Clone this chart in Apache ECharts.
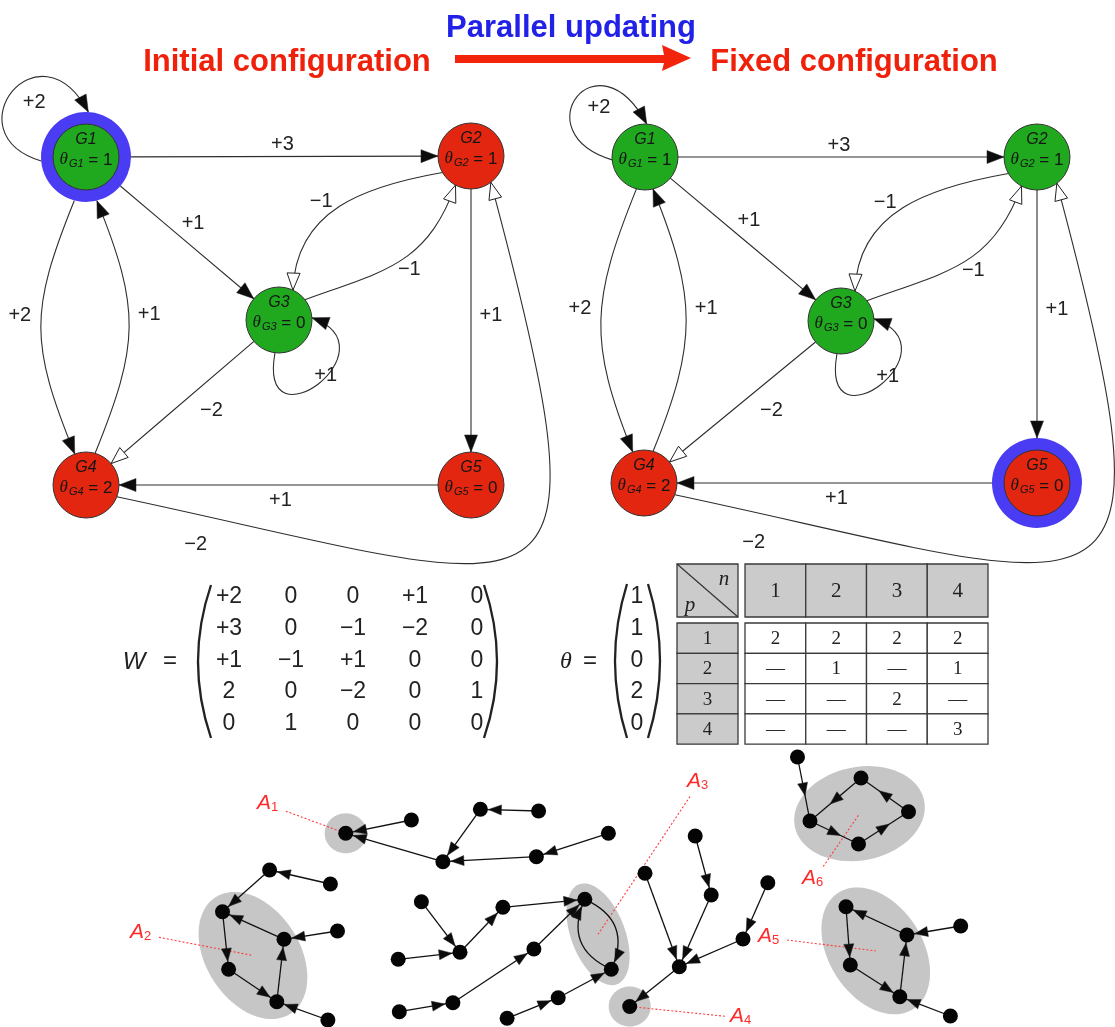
<!DOCTYPE html>
<html>
<head>
<meta charset="utf-8">
<title>Boolean network: parallel updating</title>
<script src="https://cdn.jsdelivr.net/npm/echarts@6/dist/echarts.min.js"></script>
<style>
  html, body { margin: 0; padding: 0; background: #fff; }
  #main { width: 1115px; height: 1027px; }
</style>
</head>
<body>
<div id="main"></div>
<script>
// ---------------- data ----------------
var geneNames = ['G1', 'G2', 'G3', 'G4', 'G5'];
var thetas = [1, 1, 0, 2, 0];
// W[i][j] = weight of edge Gj -> Gi (as printed)
var wText = [
  ['+2', '0', '0', '+1', '0'],
  ['+3', '0', '−1', '−2', '0'],
  ['+1', '−1', '+1', '0', '0'],
  ['2', '0', '−2', '0', '1'],
  ['0', '1', '0', '0', '0']
];
var W = wText.map(function (row) {
  return row.map(function (s) { return parseFloat(s.replace('−', '-')); });
});
var stateInitial = [1, 0, 1, 0, 0];   // 1 = active (green), 0 = inactive (red)
var stateFixed = [1, 1, 1, 0, 0];
var updatedInitial = 0;               // node with blue ring
var updatedFixed = 4;

// node positions of the two gene networks (initial / fixed)
var posInitial = [[86, 157], [471, 156], [279, 320], [86, 485], [471, 485]];
var posFixed = [[645, 157], [1037, 157], [841, 321], [644, 483], [1037, 483]];

// attractor table
var tableCols = ['1', '2', '3', '4'];   // n
var tableRows = ['1', '2', '3', '4'];   // p
var tableVals = [
  ['2', '2', '2', '2'],
  ['—', '1', '—', '1'],
  ['—', '—', '2', '—'],
  ['—', '—', '—', '3']
];

// state-space network (bottom)
var dotXY = [
  [345.7, 833.3], [411.4, 820], [480.4, 809.3], [538.6, 811], [442.9, 861.7],
  [536.4, 856.7], [608.4, 833.3], [269.6, 870], [330.4, 884], [222.5, 911.7],
  [284, 939.3], [337.5, 931], [228.6, 969.3], [276.8, 1001.7], [327.9, 1020],
  [421.4, 901.7], [502.9, 907.3], [460, 952.3], [398.2, 959.3], [584.8, 899.3],
  [611.3, 969.3], [533.9, 949], [452.9, 1002.7], [399.3, 1011.7], [558.2, 997.7],
  [507.1, 1018.3], [629.7, 1006.5], [645, 873.3], [695.2, 836], [711.2, 895],
  [767.8, 882.7], [743, 939], [679.3, 966.7], [797.5, 757], [861, 778],
  [908.5, 811.7], [858.5, 844], [810, 821], [846, 906.7], [906.9, 935],
  [960.7, 926], [850.3, 965], [899.8, 996.7], [950.4, 1016]
];
var dotEdges = [
  [1, 0], [4, 0], [2, 4], [3, 2], [5, 4], [6, 5],
  [8, 7], [7, 9], [10, 9], [9, 12], [12, 13], [13, 10], [11, 10], [14, 13],
  [15, 17], [18, 17], [17, 16], [16, 19],
  [23, 22], [22, 21], [21, 19],
  [25, 24], [24, 20],
  [19, 20], [20, 19],
  [27, 32], [28, 29], [29, 32], [30, 31], [31, 32], [32, 26],
  [33, 37], [34, 37], [37, 36], [36, 35], [35, 34],
  [39, 38], [38, 41], [41, 42], [42, 39], [40, 39], [43, 42]
];
var attractorNames = ['1', '2', '3', '4', '5', '6'];
var attractorMembers = [[0], [9, 10, 12, 13], [19, 20], [26], [38, 39, 41, 42], [34, 35, 36, 37]];

// ---------------- layout / style ----------------
var SANS = '"Liberation Sans", Arial, Helvetica, sans-serif';
var SERIF = '"Liberation Serif", "DejaVu Serif", serif';
var GREEN = '#20a81f', RED = '#e2260f', BLUE = '#4a3cf2';
var NODE_R = 33, RING_R = 45;

var panelPos = [posInitial, posFixed];
var panelState = [stateInitial, stateFixed];
var panelUpdated = [updatedInitial, updatedFixed];

// curve routing of gene edges: attach angles, control directions, tension, label offset
var edgeShape = {
  '0-0': { a0: 175, a1: 273, d0: 197, d1: 242, k0: 95, k1: 105, dx: 22, dy: 11 },
  '0-1': { dx: -2, dy: -12 },
  '0-2': { dx: 6, dy: -19 },
  '0-3': { a0: 105, a1: 250, d0: 112, d1: 248, k0: 120, k1: 120, dx: -21, dy: -12 },
  '3-0': { a0: 286, a1: 76, d0: 292, d1: 68, k0: 118, k1: 118, dx: 20, dy: -12 },
  '1-2': { a0: 150, a1: 295, d0: 170, d1: 272, k0: 80, k1: 80, dx: -18, dy: -5 },
  '2-1': { a0: 322, a1: 118, d0: 340, d1: 110, k0: 85, k1: 85, dx: 10, dy: 8 },
  '2-2': { a0: 97, a1: 356, d0: 100, d1: 20, k0: 100, k1: 90, dx: 7, dy: -8 },
  '2-3': { dx: 29, dy: 8 },
  '4-3': { dx: 2, dy: 15 },
  '1-4': { dx: 20, dy: -5 },
  '3-1': { a0: 21, a1: 53, d0: 12, d1: 75, k0: 455, k1: 490, t: 0.07, dx: -9, dy: 28 }
};
var dotBend = { '19-20': -0.5, '20-19': -0.5 };
var midArrowFrom = 33;   // edges inside the last attractor carry arrows mid-way
var attractorLabelXY = [[257, 803], [130, 932], [687, 781], [730, 1016], [758, 936], [802, 878]];

var MAT_X0 = 229, MAT_DX = 62, MAT_Y0 = 597, MAT_DY = 31.6;
var VEC_X = 637;
var TB_X0 = 677, TB_CORNER_W = 61, TB_COL_X0 = 745, TB_COL_W = 60.75;
var TB_Y0 = 564, TB_HEAD_H = 53, TB_ROW_Y0 = 623, TB_ROW_H = 30.3;

// ---------------- helpers ----------------
function dir(a) { var r = a * Math.PI / 180; return [Math.cos(r), Math.sin(r)]; }
function add(p, d, k) { return [p[0] + d[0] * k, p[1] + d[1] * k]; }
function mix(a, b, t) { return [a[0] + (b[0] - a[0]) * t, a[1] + (b[1] - a[1]) * t]; }
function bez(P, t) {
  var u = 1 - t, c0 = u * u * u, c1 = 3 * u * u * t, c2 = 3 * u * t * t, c3 = t * t * t;
  return [c0 * P[0][0] + c1 * P[1][0] + c2 * P[2][0] + c3 * P[3][0],
          c0 * P[0][1] + c1 * P[1][1] + c2 * P[2][1] + c3 * P[3][1]];
}
function fmtW(w) { return w > 0 ? '+' + w : '−' + (-w); }
function nodeR(panel, i) { return panelUpdated[panel] === i ? RING_R : NODE_R; }

function arrowHead(tip, from, len, half, hollow) {
  var dx = tip[0] - from[0], dy = tip[1] - from[1], l = Math.sqrt(dx * dx + dy * dy) || 1;
  var ux = dx / l, uy = dy / l, bx = tip[0] - ux * len, by = tip[1] - uy * len;
  return {
    type: 'polygon',
    shape: { points: [tip, [bx - uy * half, by + ux * half], [bx + uy * half, by - ux * half]] },
    style: { fill: hollow ? '#fff' : '#0c0c0c', stroke: '#222', lineWidth: hollow ? 1 : 0.5 }
  };
}

function geneEdgeGeom(panel, s, t) {
  var pos = panelPos[panel], rs = nodeR(panel, s), rt = nodeR(panel, t);
  var sh = edgeShape[s + '-' + t] || {};
  var P0, P1, P2, P3;
  if (sh.a0 === undefined) {
    var ang = Math.atan2(pos[t][1] - pos[s][1], pos[t][0] - pos[s][0]) * 180 / Math.PI;
    P0 = add(pos[s], dir(ang), rs);
    P3 = add(pos[t], dir(ang + 180), rt);
    P1 = mix(P0, P3, 1 / 3);
    P2 = mix(P0, P3, 2 / 3);
  } else {
    P0 = add(pos[s], dir(sh.a0), rs);
    P3 = add(pos[t], dir(sh.a1), rt);
    P1 = add(P0, dir(sh.d0), sh.k0);
    P2 = add(P3, dir(sh.d1), sh.k1);
  }
  return { P: [P0, P1, P2, P3], sh: sh };
}

// ---------------- series data ----------------
var geneEdgeData = [];
var geneNodeData = [];
[0, 1].forEach(function (panel) {
  for (var i = 0; i < 5; i++) {
    for (var j = 0; j < 5; j++) {
      if (W[i][j] !== 0) geneEdgeData.push([panel, j, i, W[i][j]]);
    }
    geneNodeData.push([panel, i]);
  }
});
var matrixData = [];
for (var r = 0; r < 5; r++) for (var c = 0; c < 5; c++) matrixData.push([r, c]);
var tableData = [[-1, -1]];
tableCols.forEach(function (_, c) { tableData.push([-1, c]); });
tableRows.forEach(function (_, r) {
  tableData.push([r, -1]);
  tableCols.forEach(function (_, c) { tableData.push([r, c]); });
});

// ---------------- renderers ----------------
function renderGeneEdge(params, api) {
  var panel = api.value(0), s = api.value(1), t = api.value(2), w = api.value(3);
  var g = geneEdgeGeom(panel, s, t);
  var P = g.P.map(function (p) { return api.coord(p); });
  var tt = g.sh.t == null ? 0.5 : g.sh.t;
  var m = bez(P, tt);
  return {
    type: 'group',
    children: [
      {
        type: 'bezierCurve',
        shape: { x1: P[0][0], y1: P[0][1], cpx1: P[1][0], cpy1: P[1][1], cpx2: P[2][0], cpy2: P[2][1], x2: P[3][0], y2: P[3][1] },
        style: { fill: 'none', stroke: '#2e2e2e', lineWidth: 1.1 }
      },
      arrowHead(P[3], P[2], 17, 6.5, w < 0),
      {
        type: 'text', x: m[0] + (g.sh.dx || 0), y: m[1] + (g.sh.dy || 0),
        style: { text: fmtW(w), fontFamily: SANS, fontSize: 20, fill: '#222', align: 'center', verticalAlign: 'middle' }
      }
    ]
  };
}

function renderGeneNode(params, api) {
  var panel = api.value(0), i = api.value(1);
  var p = api.coord(panelPos[panel][i]);
  var children = [];
  if (panelUpdated[panel] === i) {
    children.push({ type: 'circle', shape: { cx: p[0], cy: p[1], r: RING_R }, style: { fill: BLUE } });
  }
  children.push({
    type: 'circle', shape: { cx: p[0], cy: p[1], r: NODE_R },
    style: { fill: panelState[panel][i] ? GREEN : RED, stroke: '#333', lineWidth: 1 }
  });
  children.push({
    type: 'text', x: p[0], y: p[1] - 17,
    style: { text: geneNames[i], fontFamily: SANS, fontStyle: 'italic', fontSize: 16, fill: '#151515', align: 'center', verticalAlign: 'middle' }
  });
  children.push({
    type: 'text', x: p[0], y: p[1] + 3,
    style: {
      text: '{t|θ}{s|' + geneNames[i] + '}{e| = ' + thetas[i] + '}',
      align: 'center', verticalAlign: 'middle', fill: '#151515',
      rich: {
        t: { fontFamily: SERIF, fontStyle: 'italic', fontSize: 17, fill: '#151515' },
        s: { fontFamily: SANS, fontStyle: 'italic', fontSize: 11, fill: '#151515', padding: [8, 0, 0, 1] },
        e: { fontFamily: SANS, fontSize: 17, fill: '#151515' }
      }
    }
  });
  return { type: 'group', children: children };
}

function renderDotEdge(params, api) {
  var e = dotEdges[params.dataIndex], s = e[0], t = e[1];
  var a = api.coord(dotXY[s]), b = api.coord(dotXY[t]);
  var bend = dotBend[s + '-' + t] || 0;
  var dx = b[0] - a[0], dy = b[1] - a[1], l = Math.sqrt(dx * dx + dy * dy);
  var ux = dx / l, uy = dy / l;
  var children = [];
  var from = a;
  if (bend) {
    var cp = [(a[0] + b[0]) / 2 - uy * bend * l, (a[1] + b[1]) / 2 + ux * bend * l];
    children.push({
      type: 'bezierCurve', shape: { x1: a[0], y1: a[1], cpx1: cp[0], cpy1: cp[1], x2: b[0], y2: b[1] },
      style: { fill: 'none', stroke: '#111', lineWidth: 1.3 }
    });
    from = cp;
  } else {
    children.push({
      type: 'line', shape: { x1: a[0], y1: a[1], x2: b[0], y2: b[1] },
      style: { stroke: '#111', lineWidth: 1.3 }
    });
  }
  var tip;
  if (s >= midArrowFrom && t >= midArrowFrom && t <= 37) {
    tip = [(a[0] + b[0]) / 2 + ux * 7, (a[1] + b[1]) / 2 + uy * 7];
    from = a;
  } else {
    var fx = b[0] - from[0], fy = b[1] - from[1], fl = Math.sqrt(fx * fx + fy * fy);
    tip = [b[0] - fx / fl * 8, b[1] - fy / fl * 8];
  }
  children.push(arrowHead(tip, from, 13, 5, false));
  return { type: 'group', children: children };
}

function hullOf(k) {
  var pts = attractorMembers[k].map(function (i) { return dotXY[i]; });
  var n = pts.length, cx = 0, cy = 0;
  pts.forEach(function (p) { cx += p[0]; cy += p[1]; });
  cx /= n; cy /= n;
  var sxx = 0, syy = 0, sxy = 0;
  pts.forEach(function (p) {
    var dx = p[0] - cx, dy = p[1] - cy;
    sxx += dx * dx; syy += dy * dy; sxy += dx * dy;
  });
  var ang = 0.5 * Math.atan2(2 * sxy, sxx - syy), ux = Math.cos(ang), uy = Math.sin(ang);
  var ma = 0, mb = 0;
  pts.forEach(function (p) {
    var dx = p[0] - cx, dy = p[1] - cy;
    ma = Math.max(ma, Math.abs(dx * ux + dy * uy));
    mb = Math.max(mb, Math.abs(-dx * uy + dy * ux));
  });
  var ra = n === 1 ? 21 : ma + 16, rb = n === 1 ? 20 : Math.max(mb + 12, 27);
  return { cx: cx, cy: cy, ux: ux, uy: uy, ra: ra, rb: rb };
}

function renderHull(params, api) {
  var h = hullOf(params.dataIndex), pts = [];
  for (var i = 0; i < 72; i++) {
    var t = i / 72 * Math.PI * 2, ca = Math.cos(t) * h.ra, sb = Math.sin(t) * h.rb;
    pts.push(api.coord([h.cx + ca * h.ux - sb * h.uy, h.cy + ca * h.uy + sb * h.ux]));
  }
  return { type: 'polygon', shape: { points: pts }, style: { fill: '#c6c6c6' } };
}

function renderAttractorLabel(params, api) {
  var k = params.dataIndex, h = hullOf(k), L = attractorLabelXY[k];
  var tc = [L[0] + 12, L[1] + 2];
  var dx = h.cx - tc[0], dy = h.cy - tc[1], l = Math.sqrt(dx * dx + dy * dy);
  var ux = dx / l, uy = dy / l;
  var d = Math.min(Math.abs(ux) > 1e-6 ? 14 / Math.abs(ux) : 99, Math.abs(uy) > 1e-6 ? 11 / Math.abs(uy) : 99) + 3;
  var s = api.coord([tc[0] + ux * d, tc[1] + uy * d]), e = api.coord([h.cx, h.cy]);
  var lp = api.coord(L);
  return {
    type: 'group',
    children: [
      { type: 'line', shape: { x1: s[0], y1: s[1], x2: e[0], y2: e[1] }, style: { stroke: '#ff3b3b', lineWidth: 1.1, lineDash: [2, 2] } },
      {
        type: 'text', x: lp[0], y: lp[1],
        style: {
          text: '{a|A}{b|' + attractorNames[k] + '}', align: 'left', verticalAlign: 'middle',
          rich: {
            a: { fontFamily: SANS, fontStyle: 'italic', fontSize: 21, fill: '#ff2a2a' },
            b: { fontFamily: SANS, fontSize: 13, fill: '#ff2a2a', padding: [9, 0, 0, 0] }
          }
        }
      }
    ]
  };
}

function renderMatrixCell(params, api) {
  var r = api.value(0), c = api.value(1);
  var p = api.coord([MAT_X0 + c * MAT_DX, MAT_Y0 + r * MAT_DY]);
  return {
    type: 'text', x: p[0], y: p[1],
    style: { text: wText[r][c], fontFamily: SANS, fontSize: 23, fill: '#222', align: 'center', verticalAlign: 'middle' }
  };
}

function renderTheta(params, api) {
  var r = params.dataIndex;
  var p = api.coord([VEC_X, MAT_Y0 + r * MAT_DY]);
  return {
    type: 'text', x: p[0], y: p[1],
    style: { text: String(thetas[r]), fontFamily: SANS, fontSize: 23, fill: '#222', align: 'center', verticalAlign: 'middle' }
  };
}

function renderTableCell(params, api) {
  var r = api.value(0), c = api.value(1);
  var x0 = c < 0 ? TB_X0 : TB_COL_X0 + c * TB_COL_W;
  var x1 = c < 0 ? TB_X0 + TB_CORNER_W : x0 + TB_COL_W;
  var y0 = r < 0 ? TB_Y0 : TB_ROW_Y0 + r * TB_ROW_H;
  var y1 = r < 0 ? TB_Y0 + TB_HEAD_H : y0 + TB_ROW_H;
  var a = api.coord([x0, y0]), b = api.coord([x1, y1]);
  var head = r < 0 || c < 0;
  var children = [{
    type: 'rect', shape: { x: a[0], y: a[1], width: b[0] - a[0], height: b[1] - a[1] },
    style: { fill: head ? '#cbcbcb' : '#fff', stroke: '#3a3a3a', lineWidth: 1.3 }
  }];
  var txt = { fontFamily: SERIF, fill: '#222', align: 'center', verticalAlign: 'middle' };
  if (r < 0 && c < 0) {
    children.push({ type: 'line', shape: { x1: a[0], y1: a[1], x2: b[0], y2: b[1] }, style: { stroke: '#333', lineWidth: 1.2 } });
    children.push({ type: 'text', x: b[0] - 14, y: a[1] + 15, style: Object.assign({}, txt, { text: 'n', fontStyle: 'italic', fontSize: 21 }) });
    children.push({ type: 'text', x: a[0] + 13, y: b[1] - 12, style: Object.assign({}, txt, { text: 'p', fontStyle: 'italic', fontSize: 21 }) });
  } else {
    var s = r < 0 ? tableCols[c] : (c < 0 ? tableRows[r] : tableVals[r][c]);
    children.push({
      type: 'text', x: (a[0] + b[0]) / 2, y: (a[1] + b[1]) / 2 + 1,
      style: Object.assign({}, txt, { text: s, fontSize: r < 0 ? 21 : 19 })
    });
  }
  return { type: 'group', children: children };
}

// ---------------- chart ----------------
var chart = echarts.init(document.getElementById('main'));

function paren(x0, x1, y0, y1, left) {
  var tip = left ? x0 : x1, root = left ? x1 : x0;
  var ctrl = left ? tip - (root - tip) : tip + (tip - root);
  return {
    type: 'bezierCurve',
    shape: { x1: root, y1: y0, cpx1: ctrl, cpy1: (y0 + y1) / 2, x2: root, y2: y1 },
    style: { fill: 'none', stroke: '#222', lineWidth: 2.3 }
  };
}

chart.setOption({
  animation: false,
  backgroundColor: '#fff',
  grid: { left: 0, right: 0, top: 0, bottom: 0 },
  xAxis: { type: 'value', min: 0, max: 1115, show: false },
  yAxis: { type: 'value', min: 0, max: 1027, inverse: true, show: false },
  graphic: [
    { type: 'text', x: 571, y: 28, style: { text: 'Parallel updating', fontFamily: SANS, fontWeight: 'bold', fontSize: 31, fill: '#2121e8', align: 'center', verticalAlign: 'middle' } },
    { type: 'text', x: 287, y: 62, style: { text: 'Initial configuration', fontFamily: SANS, fontWeight: 'bold', fontSize: 31, fill: '#f0210b', align: 'center', verticalAlign: 'middle' } },
    { type: 'text', x: 854, y: 62, style: { text: 'Fixed configuration', fontFamily: SANS, fontWeight: 'bold', fontSize: 31, fill: '#f0210b', align: 'center', verticalAlign: 'middle' } },
    {
      type: 'polygon',
      shape: { points: [[455, 55], [664, 55], [662, 45], [691, 58], [662, 71], [664, 63], [455, 63]] },
      style: { fill: '#f2250c' }
    },
    { type: 'text', x: 134, y: 662, style: { text: 'W', fontFamily: SANS, fontStyle: 'italic', fontSize: 24, fill: '#222', align: 'center', verticalAlign: 'middle' } },
    { type: 'text', x: 170, y: 661, style: { text: '=', fontFamily: SANS, fontSize: 24, fill: '#222', align: 'center', verticalAlign: 'middle' } },
    paren(198, 211, 585, 738, true),
    paren(484, 497, 585, 738, false),
    { type: 'text', x: 566, y: 662, style: { text: 'θ', fontFamily: SERIF, fontStyle: 'italic', fontSize: 24, fill: '#222', align: 'center', verticalAlign: 'middle' } },
    { type: 'text', x: 590, y: 661, style: { text: '=', fontFamily: SANS, fontSize: 24, fill: '#222', align: 'center', verticalAlign: 'middle' } },
    paren(615, 627, 584, 738, true),
    paren(648, 660, 584, 738, false)
  ],
  series: [
    { type: 'custom', name: 'hulls', z: 1, silent: true, data: attractorMembers.map(function (m, k) { return [k, 0]; }), renderItem: renderHull },
    { type: 'custom', name: 'attractor labels', z: 2, silent: true, data: attractorNames.map(function (m, k) { return [k, 0]; }), renderItem: renderAttractorLabel },
    { type: 'custom', name: 'transitions', z: 3, silent: true, data: dotEdges.map(function (e, k) { return [k, 0]; }), renderItem: renderDotEdge },
    { type: 'scatter', name: 'states', z: 4, silent: true, data: dotXY, symbol: 'circle', symbolSize: 15, itemStyle: { color: '#050505', opacity: 1 } },
    { type: 'custom', name: 'gene edges', z: 5, silent: true, data: geneEdgeData, renderItem: renderGeneEdge },
    { type: 'custom', name: 'genes', z: 6, silent: true, data: geneNodeData, renderItem: renderGeneNode },
    { type: 'custom', name: 'W', z: 6, silent: true, data: matrixData, renderItem: renderMatrixCell },
    { type: 'custom', name: 'theta', z: 6, silent: true, data: thetas.map(function (v, k) { return [k, 0]; }), renderItem: renderTheta },
    { type: 'custom', name: 'table', z: 6, silent: true, data: tableData, renderItem: renderTableCell }
  ]
});
</script>
</body>
</html>
